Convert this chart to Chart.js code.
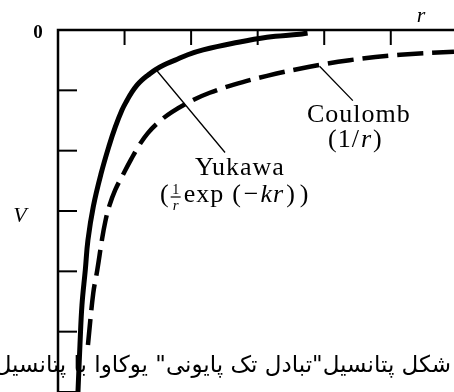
<!DOCTYPE html>
<html>
<head>
<meta charset="utf-8">
<script src="https://cdn.jsdelivr.net/npm/chart.js@4"></script>
<style>
  html, body { margin: 0; padding: 0; background: #fff; }
  #wrap { position: relative; width: 454px; height: 392px; overflow: hidden; }
</style>
</head>
<body>
<div id="wrap"><canvas id="pot" width="454" height="392"></canvas></div>
<script>
// Yukawa potential (1/r) exp(-kr), solid curve
var yukawaR = [0.30, 0.33, 0.36, 0.41, 0.45, 0.53, 0.65, 0.77, 0.86, 0.96, 1.04, 1.11, 1.19, 1.26, 1.35, 1.46, 1.59, 1.76, 1.95, 2.18, 2.63, 3.14, 3.63, 3.75];
var yukawaV = [-6.0, -5.22, -4.56, -3.98, -3.48, -2.93, -2.37, -1.91, -1.61, -1.33, -1.16, -1.03, -0.91, -0.83, -0.75, -0.66, -0.58, -0.50, -0.41, -0.33, -0.22, -0.12, -0.07, -0.05];

// Coulomb potential 1/r, dashed curve
var coulombR = [0.45, 0.53, 0.59, 0.66, 0.71, 0.77, 0.86, 0.98, 1.10, 1.22, 1.35, 1.50, 1.71, 2.03, 2.28, 2.63, 3.14, 3.78, 4.38, 5.14, 5.95];
var coulombV = [-5.22, -4.36, -3.98, -3.48, -3.18, -2.92, -2.65, -2.39, -2.14, -1.91, -1.71, -1.54, -1.36, -1.16, -1.04, -0.91, -0.76, -0.61, -0.50, -0.41, -0.36];

// tick marks on the r axis (top) and the V axis (left)
var rTicks = [1, 2, 3, 4, 5];
var vTicks = [-1, -2, -3, -4, -5, -6];

var caption = 'شکل پتانسیل"تبادل تک پایونی" یوکاوا با پتانسیل';

function toPoints(xs, ys) {
  var pts = [];
  for (var i = 0; i < xs.length; i++) {
    pts.push({x: xs[i], y: ys[i]});
  }
  return pts;
}

var serif = '"Liberation Serif", "DejaVu Serif", serif';

// write a run of [text, style, gap] pieces left to right
function drawRun(ctx, x, y, parts, size) {
  parts.forEach(function(p) {
    ctx.font = (p[1] || '') + ' ' + size + 'px ' + serif;
    ctx.fillText(p[0], x, y);
    x += ctx.measureText(p[0]).width + (p[2] === undefined ? 1 : p[2]);
  });
  return x;
}

var axesAndLabels = {
  id: 'axesAndLabels',
  afterDatasetsDraw: function(chart) {
    var ctx = chart.ctx;
    var xs = chart.scales.x, ys = chart.scales.y;
    var a = chart.chartArea;
    ctx.save();
    ctx.strokeStyle = '#000';
    ctx.fillStyle = '#000';

    // axis lines
    ctx.lineWidth = 2.5;
    ctx.beginPath();
    ctx.moveTo(a.left, a.bottom + 5);
    ctx.lineTo(a.left, a.top);
    ctx.lineTo(a.right + 5, a.top);
    ctx.stroke();

    // inward ticks
    ctx.lineWidth = 2;
    rTicks.forEach(function(v) {
      var px = xs.getPixelForValue(v);
      ctx.beginPath();
      ctx.moveTo(px, a.top);
      ctx.lineTo(px, a.top + 15);
      ctx.stroke();
    });
    vTicks.forEach(function(v) {
      var py = ys.getPixelForValue(v);
      ctx.beginPath();
      ctx.moveTo(a.left, py);
      ctx.lineTo(a.left + 19, py);
      ctx.stroke();
    });

    // leader lines from labels to curves
    ctx.lineWidth = 1.3;
    ctx.beginPath();
    ctx.moveTo(xs.getPixelForValue(3.93), ys.getPixelForValue(-0.60));
    ctx.lineTo(xs.getPixelForValue(4.43), ys.getPixelForValue(-1.17));
    ctx.moveTo(xs.getPixelForValue(1.49), ys.getPixelForValue(-0.68));
    ctx.lineTo(xs.getPixelForValue(2.51), ys.getPixelForValue(-2.03));
    ctx.stroke();

    // axis names
    ctx.textBaseline = 'alphabetic';
    ctx.textAlign = 'center';
    ctx.font = 'bold 19px ' + serif;
    ctx.fillText('0', 38, 38);
    ctx.font = 'italic 22px ' + serif;
    ctx.fillText('r', 421, 22);
    ctx.fillText('V', 20, 222);

    // curve labels
    ctx.textAlign = 'left';
    ctx.letterSpacing = '1px';
    ctx.font = '26px ' + serif;
    ctx.fillText('Coulomb', 307, 122);
    drawRun(ctx, 328, 147, [['(1/', ''], ['r', 'italic'], [')', '']], 26);
    ctx.font = '26px ' + serif;
    ctx.fillText('Yukawa', 195, 175);

    var x = drawRun(ctx, 160, 202, [['(', '']], 26);
    // small 1/r fraction
    ctx.letterSpacing = '0px';
    ctx.textAlign = 'center';
    ctx.font = '14px ' + serif;
    ctx.fillText('1', x + 5, 194);
    ctx.lineWidth = 1.2;
    ctx.beginPath();
    ctx.moveTo(x, 197);
    ctx.lineTo(x + 10, 197);
    ctx.stroke();
    ctx.font = 'italic 15px ' + serif;
    ctx.fillText('r', x + 5, 210);
    ctx.textAlign = 'left';
    ctx.letterSpacing = '1px';
    drawRun(ctx, x + 13, 202, [['exp', '', 8], ['(', '', 2], ['\u2212', '', 1], ['kr', 'italic', 2], [')', '', 4], [')', '']], 26);
    ctx.letterSpacing = '0px';

    // caption line (right to left)
    ctx.direction = 'rtl';
    ctx.textAlign = 'right';
    ctx.font = '23px "DejaVu Sans", sans-serif';
    ctx.fillText(caption, 451, 372);
    ctx.restore();
  }
};

new Chart(document.getElementById('pot'), {
  type: 'line',
  data: {
    datasets: [
      {
        label: 'Yukawa',
        data: toPoints(yukawaR, yukawaV),
        borderColor: '#000',
        borderWidth: 5,
        pointRadius: 0,
        tension: 0.4,
        fill: false
      },
      {
        label: 'Coulomb',
        data: toPoints(coulombR, coulombV),
        borderColor: '#000',
        borderWidth: 4.5,
        borderDash: [26, 9],
        pointRadius: 0,
        tension: 0.4,
        fill: false
      }
    ]
  },
  options: {
    responsive: false,
    animation: false,
    events: [],
    layout: { padding: { left: 58, top: 30, right: 0, bottom: 0 } },
    plugins: { legend: { display: false }, tooltip: { enabled: false } },
    scales: {
      x: { type: 'linear', min: 0, max: 5.95, display: false },
      y: { type: 'linear', min: -6, max: 0, display: false }
    }
  },
  plugins: [axesAndLabels]
});
</script>
</body>
</html>
